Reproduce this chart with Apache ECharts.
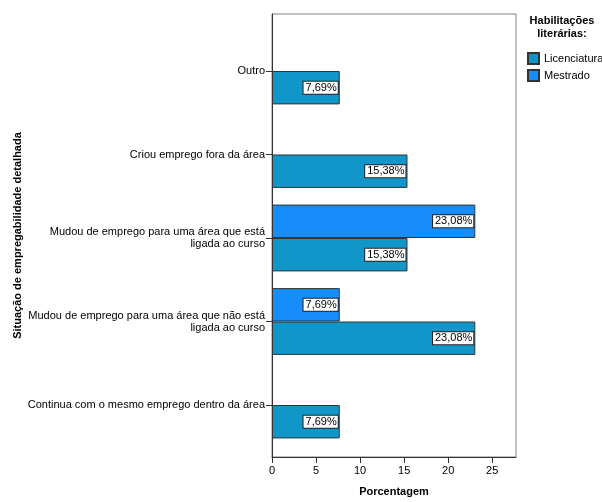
<!DOCTYPE html>
<html>
<head>
<meta charset="utf-8">
<script src="https://cdn.jsdelivr.net/npm/echarts@6/dist/echarts.min.js"></script>
<style>html,body{margin:0;padding:0;background:#fff}#c{width:602px;height:502px}</style>
</head>
<body>
<div id="c"></div>
<script>
const categories = [
  'Outro',
  'Criou emprego fora da área',
  'Mudou de emprego para uma área que está\nligada ao curso',
  'Mudou de emprego para uma área que não está\nligada ao curso',
  'Continua com o mesmo emprego dentro da área'
];
const licenciatura = [7.69, 15.38, 15.38, 23.08, 7.69];
const mestrado = [null, null, 23.08, 7.69, null];
const xTicks = [0, 5, 10, 15, 20, 25];
const seriesNames = ['Licenciatura', 'Mestrado'];
const legendTitle = 'Habilitações\nliterárias:';
const xName = 'Porcentagem';
const yName = 'Situação de empregabilidade detalhada';

const FONT = "'Liberation Sans', Arial, sans-serif";
const XMAX = 27.7;
const chart = echarts.init(document.getElementById('c'), null, {renderer: 'canvas'});

const labelCfg = {
  show: true,
  position: 'insideRight',
  distance: 2,
  color: '#000',
  fontFamily: FONT,
  fontSize: 11,
  backgroundColor: '#fff',
  borderColor: '#222',
  borderWidth: 1,
  padding: [1, 1, 0, 2],
  formatter: p => p.value == null ? '' : p.value.toFixed(2).replace('.', ',') + '%'
};

chart.setOption({
  animation: false,
  textStyle: {fontFamily: FONT},
  title: {
    text: legendTitle,
    left: 562, top: 14, padding: 0, textAlign: 'center',
    textStyle: {fontFamily: FONT, fontSize: 11, fontWeight: 'bold', color: '#000', lineHeight: 13}
  },
  legend: {
    orient: 'vertical', left: 527, top: 52, padding: 0,
    itemWidth: 11, itemHeight: 11, itemGap: 4,
    icon: 'rect',
    data: seriesNames,
    textStyle: {fontFamily: FONT, fontSize: 11, color: '#000'}
  },
  grid: [
    {left: 272, top: 14, width: 244, height: 447, show: true, borderColor: '#808080', borderWidth: 1, containLabel: false},
    {left: 272, top: 29.25, width: 244, height: 417.5, containLabel: false}
  ],
  xAxis: [
    {
      gridIndex: 0, type: 'value', min: 0, max: XMAX, interval: 5,
      name: xName, nameLocation: 'middle', nameGap: 29,
      nameTextStyle: {fontFamily: FONT, fontSize: 11, fontWeight: 'bold', color: '#000'},
      axisLine: {show: true, lineStyle: {color: '#333', width: 1}},
      axisTick: {show: true, length: 6, lineStyle: {color: '#333'}, customValues: xTicks},
      axisLabel: {color: '#000', fontSize: 11, fontFamily: FONT, margin: 8, customValues: xTicks},
      splitLine: {show: false}
    },
    {
      gridIndex: 1, type: 'value', min: 0, max: XMAX, show: false
    }
  ],
  yAxis: [
    {
      gridIndex: 0, type: 'value', min: 0, max: 1,
      name: yName, nameLocation: 'middle', nameGap: 249, nameRotate: 90,
      nameTextStyle: {fontFamily: FONT, fontSize: 11, fontWeight: 'bold', color: '#000'},
      axisLine: {show: true, lineStyle: {color: '#333', width: 1}},
      axisTick: {show: false}, axisLabel: {show: false}, splitLine: {show: false}
    },
    {
      gridIndex: 1, type: 'category', data: categories, inverse: true,
      axisLine: {show: false},
      axisTick: {show: true, alignWithLabel: true, length: 6, lineStyle: {color: '#333'}},
      axisLabel: {color: '#000', fontSize: 11, fontFamily: FONT, margin: 7, lineHeight: 12, align: 'right'},
      splitLine: {show: false}
    }
  ],
  series: [
    {
      name: seriesNames[1], type: 'bar', xAxisIndex: 1, yAxisIndex: 1,
      data: mestrado, barGap: '0%', barCategoryGap: '20%',
      itemStyle: {color: '#168dfb', borderColor: '#333', borderWidth: 1},
      label: labelCfg
    },
    {
      name: seriesNames[0], type: 'bar', xAxisIndex: 1, yAxisIndex: 1,
      data: licenciatura, barGap: '0%', barCategoryGap: '20%',
      itemStyle: {color: '#1196c9', borderColor: '#333', borderWidth: 1},
      label: labelCfg
    }
  ]
});
</script>
</body>
</html>
